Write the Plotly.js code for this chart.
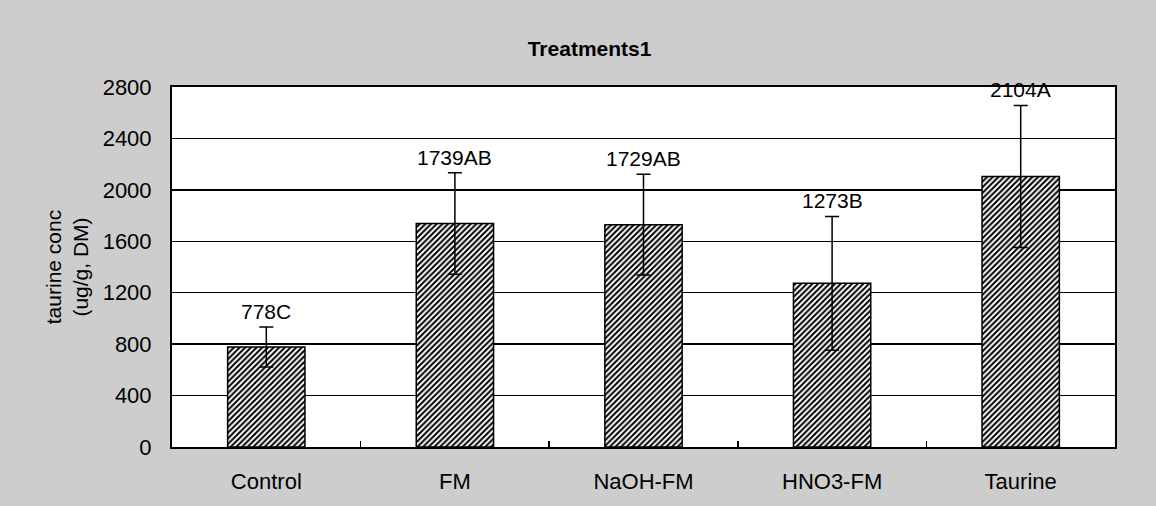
<!DOCTYPE html>
<html>
<head>
<meta charset="utf-8">
<script src="https://cdn.plot.ly/plotly-3.0.1.min.js"></script>
<style>html,body{margin:0;padding:0;background:#cdcdcd;}#chart{width:1156px;height:506px;}</style>
</head>
<body>
<div id="chart"></div>
<script>
var categories = ["Control", "FM", "NaOH-FM", "HNO3-FM", "Taurine"];
var means = [778, 1739, 1729, 1273, 2104];
var errors = [155, 395, 392, 520, 553];
var labels = ["778C", "1739AB", "1729AB", "1273B", "2104A"];
var yTicks = [0, 400, 800, 1200, 1600, 2000, 2400, 2800];

var FONT = "Liberation Sans, Arial, sans-serif";

var trace = {
  type: "bar",
  x: categories,
  y: means,
  marker: {
    color: "#ffffff",
    line: {color: "#000000", width: 1.5},
    pattern: {shape: "/", fgcolor: "#000000", bgcolor: "#ffffff", size: 4, solidity: 0.5}
  },
  error_y: {type: "data", array: errors, visible: true, color: "#000000", thickness: 1.5, width: 7},
  hoverinfo: "none"
};

var annotations = categories.map(function (c, i) {
  return {
    x: c, y: means[i] + errors[i], xref: "x", yref: "y",
    text: labels[i], showarrow: false, yanchor: "bottom", yshift: 2,
    font: {family: FONT, size: 21, color: "#000"}
  };
});

var layout = {
  width: 1156, height: 506,
  paper_bgcolor: "#cdcdcd",
  plot_bgcolor: "#ffffff",
  margin: {l: 172, r: 41, t: 87, b: 59},
  bargap: 0.59,
  showlegend: false,
  title: {
    text: "<b>Treatments1</b>",
    xref: "container", x: 0.51, xanchor: "center",
    yref: "container", y: 0.903, yanchor: "middle",
    font: {family: FONT, size: 21, color: "#000"}
  },
  xaxis: {
    type: "category",
    showline: true, linecolor: "#000", linewidth: 2, mirror: true,
    ticks: "inside", tickson: "boundaries", ticklen: 6, tickcolor: "#000", tickwidth: 1.5,
    showgrid: false,
    ticklabelstandoff: 14,
    tickfont: {family: FONT, size: 22, color: "#000"},
    fixedrange: true
  },
  yaxis: {
    range: [0, 2800],
    tickvals: yTicks,
    ticktext: yTicks.map(String),
    showline: true, linecolor: "#000", linewidth: 2, mirror: true,
    showgrid: true, gridcolor: "#000", gridwidth: 1.5,
    zeroline: false,
    ticks: "", ticklabelstandoff: 14,
    tickfont: {family: FONT, size: 22, color: "#000"},
    title: {
      text: "taurine conc<br>(ug/g, DM)",
      standoff: 8,
      font: {family: FONT, size: 21, color: "#000"}
    },
    automargin: false,
    fixedrange: true
  },
  annotations: annotations
};

Plotly.newPlot("chart", [trace], layout, {displayModeBar: false, staticPlot: true});
</script>
</body>
</html>
